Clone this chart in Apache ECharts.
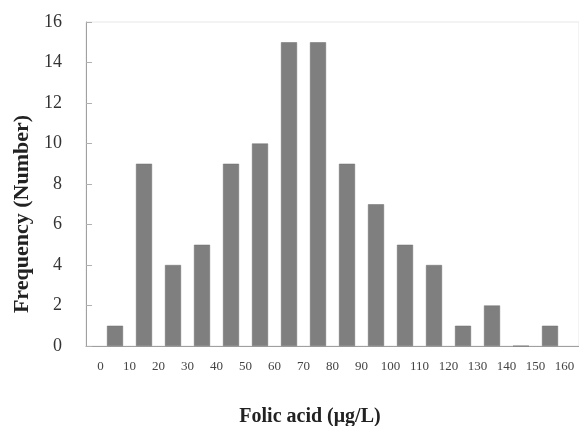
<!DOCTYPE html>
<html>
<head>
<meta charset="utf-8">
<script src="https://cdn.jsdelivr.net/npm/echarts@6/dist/echarts.min.js"></script>
<style>html,body{margin:0;padding:0;background:#fff;}#c{width:579px;height:426px;}</style>
</head>
<body>
<div id="c"></div>
<script>
var binEdges = [0, 10, 20, 30, 40, 50, 60, 70, 80, 90, 100, 110, 120, 130, 140, 150, 160];
var counts = [1, 9, 4, 5, 9, 10, 15, 15, 9, 7, 5, 4, 1, 2, 0, 1];
var yTicks = [0, 2, 4, 6, 8, 10, 12, 14, 16];
var xName = 'Folic acid (μg/L)';
var yName = 'Frequency (Number)';

var barData = counts.map(function (c, i) {
  return [(binEdges[i] + binEdges[i + 1]) / 2, c];
});

var chart = echarts.init(document.getElementById('c'), null, {renderer: 'canvas'});
var serif = '"Liberation Serif", "DejaVu Serif", serif';
chart.setOption({
  animation: false,
  backgroundColor: '#fff',
  grid: {left: 86, top: 22, width: 494, height: 324, show: true, borderColor: '#e8e8e8', borderWidth: 1, containLabel: false},
  xAxis: {
    type: 'value', min: -5, max: 165,
    axisLine: {show: true, onZero: false, lineStyle: {color: '#a0a0a0', width: 1}},
    axisTick: {show: false},
    splitLine: {show: false},
    axisLabel: {
      customValues: binEdges, color: '#444', fontFamily: serif, fontSize: 13, margin: 14
    }
  },
  yAxis: {
    type: 'value', min: yTicks[0], max: yTicks[yTicks.length - 1], interval: 2,
    axisLine: {show: true, onZero: false, lineStyle: {color: '#a0a0a0', width: 1}},
    axisTick: {show: true, inside: true, length: 6, lineStyle: {color: '#b0b0b0'}},
    splitLine: {show: false},
    axisLabel: {color: '#333', fontFamily: serif, fontSize: 18, margin: 24}
  },
  series: [{
    type: 'bar',
    data: barData,
    barWidth: 16,
    itemStyle: {color: '#7f7f7f', borderColor: '#6e6e6e', borderWidth: 0.5}
  }],
  graphic: [
    {type: 'text', x: 310, y: 417, style: {text: xName, font: 'bold 20px ' + serif, fill: '#222', align: 'center', verticalAlign: 'middle'}},
    {type: 'text', x: 22, y: 214, rotation: Math.PI / 2, style: {text: yName, font: 'bold 22px ' + serif, fill: '#222', align: 'center', verticalAlign: 'middle'}}
  ]
});
</script>
</body>
</html>
